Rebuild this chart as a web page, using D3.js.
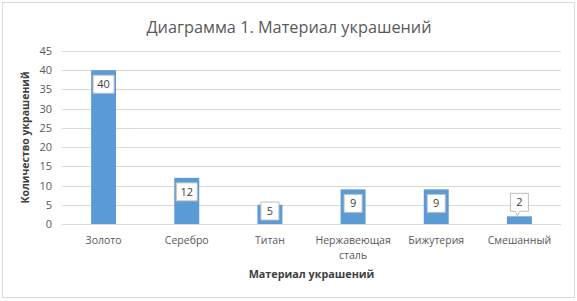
<!DOCTYPE html>
<html>
<head>
<meta charset="utf-8">
<script src="https://cdn.jsdelivr.net/npm/d3@7"></script>
<style>
  body { margin: 0; background: #fff; }
  text { font-family: "Open Sans", "Noto Sans", sans-serif; }
</style>
</head>
<body>
<svg id="chart" width="577" height="301"></svg>
<script>
// данные диаграммы
const categories = ["Золото", "Серебро", "Титан", "Нержавеющая сталь", "Бижутерия", "Смешанный"];
const values = [40, 12, 5, 9, 9, 2];
const yTicks = [0, 5, 10, 15, 20, 25, 30, 35, 40, 45];

const svg = d3.select("#chart");
const W = 577, H = 301;
const margin = {left: 62, right: 16, top: 51, bottom: 77};

// рамка
svg.append("rect")
    .attr("x", 2.5).attr("y", 2.5)
    .attr("width", W - 5).attr("height", H - 6)
    .attr("fill", "#fff")
    .attr("stroke", "#d9d9d9");

const x = d3.scaleBand()
    .domain(categories)
    .range([margin.left, W - margin.right])
    .paddingInner(0.7).paddingOuter(0.35);

const y = d3.scaleLinear()
    .domain([0, 45])
    .range([H - margin.bottom, margin.top]);

// сетка
svg.append("g")
    .selectAll("line")
    .data(yTicks)
    .join("line")
    .attr("x1", margin.left).attr("x2", W - margin.right)
    .attr("y1", d => Math.round(y(d)) + 0.5)
    .attr("y2", d => Math.round(y(d)) + 0.5)
    .attr("stroke", "#d9d9d9")
    .attr("stroke-width", 1);

// ось Y
const yAxis = svg.append("g")
    .attr("transform", `translate(${margin.left},0)`)
    .call(d3.axisLeft(y).tickValues(yTicks).tickSize(0).tickPadding(10));
yAxis.select(".domain").remove();
yAxis.selectAll("text")
    .attr("font-size", 11)
    .attr("fill", "#595959")
    .style("font-family", "'Open Sans', sans-serif");

// столбцы
svg.append("g")
    .selectAll("rect")
    .data(values)
    .join("rect")
    .attr("x", (d, i) => x(categories[i]))
    .attr("y", d => y(d))
    .attr("width", x.bandwidth())
    .attr("height", d => y(0) - y(d))
    .attr("fill", "#5b9bd5");

// подписи данных
const lbl = svg.append("g")
    .selectAll("g")
    .data(values)
    .join("g")
    .attr("transform", (d, i) => {
        const cx = x(categories[i]) + x.bandwidth() / 2;
        let cy = y(d) + 14;
        if (d < 4) cy = y(d) - 14;
        else if (y(0) - y(d) < 24) cy = y(0) - 13;
        return `translate(${cx},${cy})`;
    });
lbl.append("path")
    .attr("d", d => {
        const w = d >= 10 ? 21 : 18, h = 18;
        const l = -w / 2, r = w / 2, t = -h / 2, b = h / 2;
        if (d < 4) {
            return `M${l},${t}H${r}V${b}H0L-2,${b + 5}L-4,${b}H${l}Z`;
        }
        return `M${l},${t}H${r}V${b}H${l}Z`;
    })
    .attr("fill", "#fff")
    .attr("stroke", "#bfbfbf")
    .attr("stroke-width", 1);
lbl.append("text")
    .attr("text-anchor", "middle")
    .attr("dy", "0.36em")
    .attr("font-size", 11)
    .attr("fill", "#404040")
    .text(d => d);

// подписи категорий
const xl = svg.append("g")
    .selectAll("text")
    .data(categories)
    .join("text")
    .attr("x", d => x(d) + x.bandwidth() / 2)
    .attr("y", 244)
    .attr("text-anchor", "middle")
    .attr("font-size", 10.5)
    .attr("fill", "#595959");
xl.each(function(d) {
    const words = d === "Нержавеющая сталь" ? d.split(" ") : [d];
    d3.select(this).selectAll("tspan")
        .data(words)
        .join("tspan")
        .attr("x", d3.select(this).attr("x"))
        .attr("dy", (w, i) => i === 0 ? 0 : 15)
        .text(w => w);
});

// заголовок
svg.append("text")
    .attr("x", 289).attr("y", 33)
    .attr("text-anchor", "middle")
    .attr("font-size", 16.3)
    .attr("fill", "#595959")
    .text("Диаграмма 1. Материал украшений");

// подписи осей
svg.append("text")
    .attr("x", (margin.left + W - margin.right) / 2)
    .attr("y", 278)
    .attr("text-anchor", "middle")
    .attr("font-size", 10.8)
    .attr("font-weight", "bold")
    .attr("fill", "#404040")
    .text("Материал украшений");

svg.append("text")
    .attr("transform", `translate(29,${(y(0) + y(45)) / 2}) rotate(-90)`)
    .attr("text-anchor", "middle")
    .attr("font-size", 10.5)
    .attr("font-weight", "bold")
    .attr("fill", "#404040")
    .text("Количество украшений");
</script>
</body>
</html>
